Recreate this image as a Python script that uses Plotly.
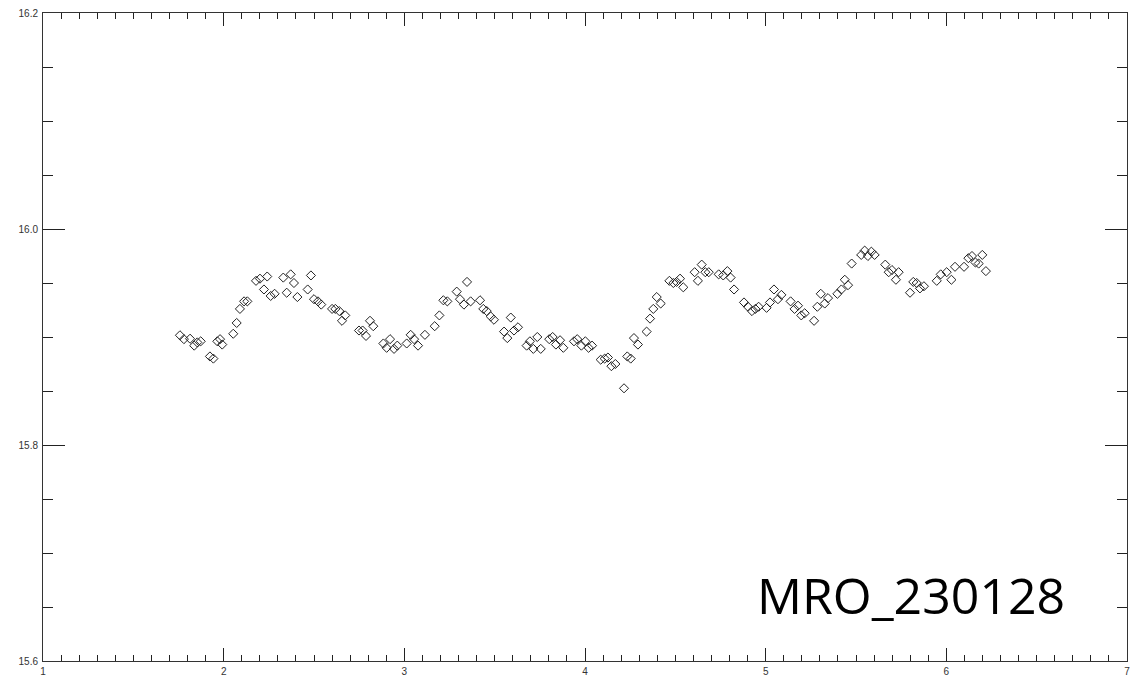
import plotly.graph_objects as go

x_vals = [1.758, 1.780, 1.814, 1.837, 1.854, 1.873, 1.924, 1.943, 1.965, 1.980, 1.992,
          2.053, 2.072, 2.090, 2.113, 2.131, 2.179, 2.201, 2.223, 2.241, 2.260, 2.282,
          2.330, 2.349, 2.371, 2.389, 2.408, 2.465, 2.483, 2.500, 2.522, 2.540, 2.600,
          2.618, 2.640, 2.655, 2.673, 2.749, 2.769, 2.788, 2.810, 2.828, 2.884, 2.902,
          2.921, 2.943, 2.961, 3.013, 3.035, 3.054, 3.076, 3.114, 3.168, 3.194, 3.216,
          3.238, 3.290, 3.308, 3.330, 3.347, 3.367, 3.419, 3.437, 3.456, 3.478, 3.496,
          3.552, 3.570, 3.589, 3.607, 3.629, 3.677, 3.695, 3.714, 3.736, 3.755, 3.802,
          3.821, 3.839, 3.862, 3.880, 3.939, 3.957, 3.980, 4.002, 4.020, 4.039, 4.087,
          4.109, 4.127, 4.146, 4.168, 4.216, 4.234, 4.253, 4.271, 4.293, 4.341, 4.360,
          4.378, 4.397, 4.419, 4.467, 4.489, 4.507, 4.526, 4.544, 4.607, 4.625, 4.646,
          4.666, 4.685, 4.740, 4.765, 4.788, 4.806, 4.825, 4.880, 4.902, 4.924, 4.943,
          4.961, 5.005, 5.024, 5.046, 5.068, 5.087, 5.138, 5.160, 5.179, 5.197, 5.216,
          5.268, 5.286, 5.305, 5.327, 5.345, 5.397, 5.419, 5.438, 5.456, 5.476, 5.529,
          5.548, 5.566, 5.585, 5.603, 5.662, 5.681, 5.699, 5.721, 5.736, 5.799, 5.817,
          5.836, 5.854, 5.876, 5.947, 5.969, 6.002, 6.028, 6.048, 6.098, 6.122, 6.142,
          6.161, 6.179, 6.199, 6.219]
y_vals = [15.9016, 15.898, 15.8984, 15.892, 15.895, 15.896, 15.882, 15.880, 15.896, 15.898, 15.893,
          15.903, 15.913, 15.926, 15.933, 15.933, 15.952, 15.954, 15.944, 15.956, 15.938, 15.940,
          15.955, 15.941, 15.958, 15.950, 15.937, 15.944, 15.957, 15.935, 15.933, 15.930, 15.926,
          15.926, 15.924, 15.915, 15.920, 15.906, 15.906, 15.901, 15.915, 15.910, 15.894, 15.890,
          15.898, 15.889, 15.892, 15.894, 15.902, 15.898, 15.892, 15.902, 15.910, 15.920, 15.934,
          15.933, 15.942, 15.935, 15.930, 15.951, 15.933, 15.934, 15.926, 15.924, 15.919, 15.916,
          15.905, 15.899, 15.918, 15.906, 15.909, 15.892, 15.896, 15.889, 15.900, 15.889, 15.898,
          15.900, 15.893, 15.897, 15.890, 15.896, 15.898, 15.892, 15.896, 15.890, 15.892, 15.879,
          15.880, 15.881, 15.873, 15.875, 15.8525, 15.882, 15.880, 15.899, 15.893, 15.905, 15.917,
          15.926, 15.937, 15.931, 15.952, 15.950, 15.951, 15.954, 15.946, 15.960, 15.952, 15.967,
          15.960, 15.960, 15.958, 15.957, 15.961, 15.955, 15.944, 15.932, 15.928, 15.924, 15.926,
          15.928, 15.927, 15.932, 15.944, 15.935, 15.939, 15.933, 15.926, 15.929, 15.920, 15.922,
          15.915, 15.928, 15.940, 15.931, 15.936, 15.940, 15.944, 15.953, 15.948, 15.968, 15.976,
          15.980, 15.975, 15.979, 15.976, 15.967, 15.960, 15.962, 15.953, 15.960, 15.941, 15.951,
          15.950, 15.945, 15.947, 15.952, 15.958, 15.960, 15.953, 15.965, 15.965, 15.973, 15.975,
          15.969, 15.968, 15.976, 15.961]

x_ticks = [1, 2, 3, 4, 5, 6, 7]
y_ticks = [15.6, 15.8, 16.0, 16.2]
label_text = "MRO_230128"

fig = go.Figure()
fig.add_trace(go.Scatter(
    x=x_vals, y=y_vals, mode="markers",
    marker=dict(symbol="diamond-open", size=7, color="#222222", line=dict(width=1, color="#222222")),
    showlegend=False, hoverinfo="skip",
))

axis_common = dict(
    showgrid=False, zeroline=False, showline=True, linecolor="#333333", linewidth=1,
    mirror="allticks", ticks="inside", tickcolor="#222222", tickwidth=1,
    tickfont=dict(family="Liberation Sans, Arial, sans-serif", size=10, color="#333333"),
    automargin=False,
)

fig.update_xaxes(
    range=[1, 7], tickvals=x_ticks, ticktext=[str(v) for v in x_ticks], ticklen=13,
    minor=dict(dtick=0.1, tick0=1, ticks="inside", ticklen=6, tickcolor="#222222", showgrid=False),
    ticklabelstandoff=1,
    **axis_common,
)
fig.update_yaxes(
    range=[15.6, 16.2], tickvals=y_ticks, ticktext=[f"{v:.1f}" for v in y_ticks], ticklen=22,
    minor=dict(dtick=0.05, tick0=15.6, ticks="inside", ticklen=10, tickcolor="#222222", showgrid=False),
    ticklabelstandoff=2,
    **axis_common,
)

fig.add_annotation(
    text=label_text, xref="paper", yref="paper", x=0.945, y=0.047,
    xanchor="right", yanchor="bottom", showarrow=False,
    font=dict(family="Open Sans, sans-serif", size=50, color="black"),
)

fig.update_layout(
    width=1140, height=678,
    margin=dict(l=43, r=13, t=13, b=17),
    paper_bgcolor="white", plot_bgcolor="white",
)

fig.write_html("out.html", config={"displayModeBar": False},
               post_script="document.body.style.margin='0';document.body.style.overflow='hidden';")
